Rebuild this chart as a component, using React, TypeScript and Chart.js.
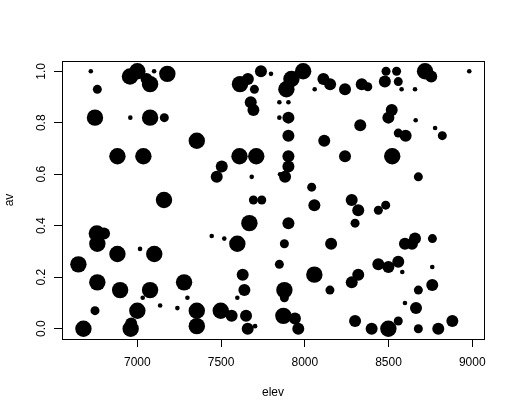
import React, { useEffect, useRef } from 'react';
import { Chart, registerables } from 'chart.js';
Chart.register(...registerables);

const elev = [
  6722, 6761, 6747, 6958, 7076, 7161, 7355, 6881, 7036, 7159,
  6956, 7000, 7076, 7055, 7100, 7179, 7738, 7798, 7613, 7660,
  7699, 7677, 7693, 7890, 7920, 7990, 8111, 8151, 8240, 8340,
  8376, 8478, 8485, 8548, 8558, 8578, 8658, 8718, 8755, 8982,
  8059, 7848, 7902, 7848, 7902, 7902, 8116, 8331, 8519, 8499,
  8662, 8558, 8602, 8778, 8821, 7902, 7902, 7882, 7852, 8240,
  8522, 8678, 8041, 7610, 7710, 7504, 7474, 7683, 7693, 7743,
  8057, 8280,
  6758, 6801, 6761, 6881, 7016, 7101, 6648, 6761, 6897, 7076,
  7032, 7279, 7136, 7239, 7299, 6747, 7000, 7355, 6678, 6960,
  6963, 7355, 7669, 7902, 7444, 7519, 7597, 7878, 8157, 7848,
  7629, 7639, 7597, 8057, 8150, 7878, 7878, 7498, 7563, 7649,
  7659, 7703, 7872, 7941, 7961, 8319, 8300, 8439, 8483, 8598,
  8640, 8658, 8762, 8439, 8499, 8558, 8582, 8761, 8280, 8319,
  8678, 8761, 8598, 8664, 8300, 8399, 8499, 8558, 8678, 8797,
  8881,
];

const av = [
  1.00, 0.93, 0.82, 0.82, 0.82, 0.82, 0.73, 0.67, 0.67, 0.50,
  0.98, 1.00, 0.95, 0.97, 1.00, 0.99, 1.00, 0.99, 0.95, 0.97,
  0.93, 0.88, 0.85, 0.93, 0.97, 1.00, 0.97, 0.95, 0.93, 0.95,
  0.94, 0.96, 1.00, 1.00, 0.96, 0.93, 0.93, 1.00, 0.98, 1.00,
  0.93, 0.88, 0.88, 0.82, 0.82, 0.75, 0.73, 0.79, 0.85, 0.82,
  0.81, 0.76, 0.75, 0.78, 0.75, 0.67, 0.63, 0.59, 0.60, 0.67,
  0.67, 0.59, 0.55, 0.67, 0.67, 0.63, 0.59, 0.59, 0.50, 0.50,
  0.48, 0.50,
  0.37, 0.37, 0.33, 0.29, 0.31, 0.29, 0.25, 0.18, 0.15, 0.15,
  0.12, 0.18, 0.09, 0.08, 0.12, 0.07, 0.07, 0.07, 0.00, 0.00,
  0.02, 0.01, 0.41, 0.41, 0.36, 0.35, 0.33, 0.33, 0.33, 0.25,
  0.21, 0.15, 0.12, 0.21, 0.15, 0.15, 0.12, 0.07, 0.05, 0.05,
  0.00, 0.01, 0.05, 0.04, 0.00, 0.46, 0.41, 0.46, 0.48, 0.33,
  0.33, 0.35, 0.35, 0.25, 0.24, 0.26, 0.22, 0.24, 0.18, 0.21,
  0.15, 0.17, 0.10, 0.08, 0.03, 0.00, 0.00, 0.03, 0.00, 0.00,
  0.03,
];

// bubble size class (1 = smallest ... 4 = largest)
const sizeClass = [
  1, 2, 4, 1, 4, 2, 4, 4, 4, 4,
  4, 4, 4, 3, 1, 4, 3, 1, 4, 3,
  2, 3, 3, 4, 4, 4, 3, 3, 3, 3,
  2, 3, 2, 2, 2, 1, 1, 4, 3, 1,
  1, 1, 1, 1, 3, 3, 3, 3, 3, 3,
  1, 2, 3, 1, 2, 3, 3, 3, 1, 3,
  4, 2, 2, 4, 4, 3, 3, 1, 2, 2,
  3, 3,
  4, 3, 4, 4, 1, 4, 4, 4, 4, 4,
  1, 4, 1, 1, 1, 2, 4, 4, 4, 4,
  3, 4, 4, 3, 1, 1, 4, 2, 3, 2,
  3, 3, 1, 4, 2, 4, 2, 4, 3, 3,
  3, 1, 4, 3, 3, 3, 2, 2, 2, 3,
  3, 3, 2, 3, 3, 3, 1, 1, 3, 3,
  2, 3, 1, 3, 3, 3, 4, 2, 2, 3,
  3,
];

const xTicks = [7000, 7500, 8000, 8500, 9000];
const yTicks = [0, 0.2, 0.4, 0.6, 0.8, 1.0];
const xTitle = 'elev';
const yTitle = 'av';

const radiusFor = (c: number) => [0, 2.3, 4.5, 6, 8.2][c];
const FONT = '"Liberation Sans", Arial, Helvetica, sans-serif';

export default function App() {
  const ref = useRef<HTMLCanvasElement | null>(null);
  useEffect(() => {
    document.body.style.margin = '0';
    const canvas = ref.current!;
    const pts = elev.map((x, i) => ({ x, y: av[i] }));
    const boxPlugin = {
      id: 'rbox',
      afterDraw(chart: any) {
        const { ctx, chartArea } = chart;
        const ys = chart.scales.y;
        ctx.save();
        ctx.strokeStyle = '#000';
        ctx.lineWidth = 1;
        ctx.strokeRect(
          Math.round(chartArea.left) + 0.5,
          Math.round(chartArea.top) + 0.5,
          Math.round(chartArea.right - chartArea.left),
          Math.round(chartArea.bottom - chartArea.top)
        );
        ctx.fillStyle = '#000';
        ctx.font = '12px ' + FONT;
        ctx.textAlign = 'center';
        ctx.textBaseline = 'middle';
        yTicks.forEach((v) => {
          const y = ys.getPixelForValue(v);
          ctx.save();
          ctx.translate(41.5, y);
          ctx.rotate(-Math.PI / 2);
          ctx.fillText(v.toFixed(1), 0, 0);
          ctx.restore();
        });
        ctx.save();
        ctx.translate(9.5, (chartArea.top + chartArea.bottom) / 2);
        ctx.rotate(-Math.PI / 2);
        ctx.fillText(yTitle, 0, 0);
        ctx.restore();
        ctx.fillText(xTitle, (chartArea.left + chartArea.right) / 2, 393);
        ctx.restore();
      },
    };
    const chart = new Chart(canvas, {
      type: 'scatter',
      data: {
        datasets: [
          {
            data: pts,
            backgroundColor: '#000',
            borderWidth: 0,
            pointRadius: (ctx: any) => radiusFor(sizeClass[ctx.dataIndex] || 1),
            pointHoverRadius: (ctx: any) => radiusFor(sizeClass[ctx.dataIndex] || 1),
          },
        ],
      },
      options: {
        responsive: false,
        animation: false,
        layout: { padding: { left: 0, top: 61, right: 33, bottom: 0 } },
        plugins: { legend: { display: false }, tooltip: { enabled: false } },
        scales: {
          x: {
            type: 'linear',
            min: 6550,
            max: 9070,
            afterBuildTicks: (s: any) => {
              s.ticks = xTicks.map((v) => ({ value: v }));
            },
            afterFit: (s: any) => {
              s.height = 77;
            },
            border: { display: false },
            grid: { drawOnChartArea: false, drawTicks: true, tickLength: 8, color: '#000' },
            ticks: {
              color: '#000',
              font: { size: 12, family: FONT },
              padding: 8,
              maxRotation: 0,
              autoSkip: false,
              callback: (v: any) => String(v),
            },
          },
          y: {
            type: 'linear',
            min: -0.04,
            max: 1.04,
            afterBuildTicks: (s: any) => {
              s.ticks = yTicks.map((v) => ({ value: v }));
            },
            afterFit: (s: any) => {
              s.width = 62;
            },
            border: { display: false },
            grid: { drawOnChartArea: false, drawTicks: true, tickLength: 8, color: '#000' },
            ticks: { display: false },
          },
        },
      },
      plugins: [boxPlugin],
    } as any);
    return () => chart.destroy();
  }, []);
  return (
    <div style={{ width: 517, height: 416, background: '#fff' }}>
      <canvas ref={ref} width={517} height={416} style={{ display: 'block' }} />
    </div>
  );
}
